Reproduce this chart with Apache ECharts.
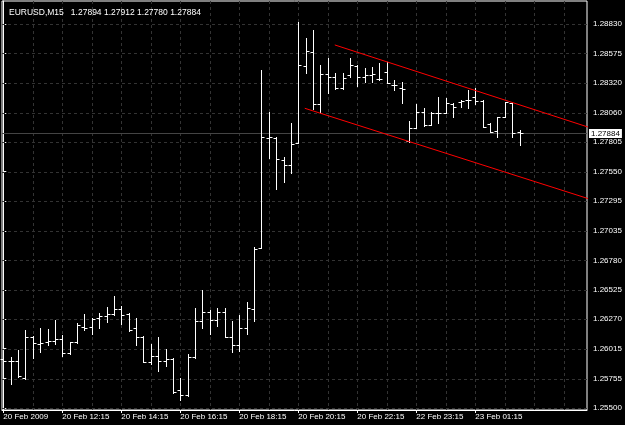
<!DOCTYPE html>
<html><head><meta charset="utf-8">
<script src="https://cdn.jsdelivr.net/npm/echarts@6/dist/echarts.min.js"></script>
<style>html,body{margin:0;padding:0;background:#000}#c{width:625px;height:425px}</style>
</head><body><div id="c"></div>
<script>
const titleText = 'EURUSD,M15   1.27894 1.27912 1.27780 1.27884';
const opens  = [1.25925,1.25908,1.25908,1.25761,1.26116,1.26055,1.26073,1.26081,1.26099,1.25977,
                1.26073,1.26203,1.26203,1.26281,1.26298,1.26315,1.26359,1.26315,1.26194,1.26116,
                1.25899,1.25951,1.25908,1.25925,1.25656,1.25613,1.25943,1.26255,1.26333,1.26263,
                1.26333,1.26116,1.26047,1.26194,1.26359,1.26888,1.27842,1.27842,1.27651,1.27607,
                1.27798,1.28466,1.28587,1.28136,1.28396,1.28370,1.28275,1.28388,1.28466,1.28370,
                1.28388,1.28353,1.28414,1.28301,1.28275,1.27816,1.27928,1.28067,1.27954,1.28058,
                1.28058,1.28136,1.28154,1.28171,1.28197,1.28162,1.27963,1.27902,1.28024,1.28145,
                1.27894];
const highs  = [1.25969,1.25943,1.26003,1.26177,1.26124,1.26194,1.26185,1.26263,1.26133,1.26073,
                1.26237,1.26315,1.26281,1.26324,1.26376,1.26472,1.26385,1.26324,1.26281,1.26124,
                1.26055,1.26116,1.26012,1.25934,1.25761,1.25969,1.26367,1.26524,1.26350,1.26367,
                1.26367,1.26255,1.26307,1.26420,1.26896,1.28431,1.28067,1.27850,1.27677,1.27972,
                1.28847,1.28709,1.28778,1.28474,1.28535,1.28405,1.28405,1.28535,1.28474,1.28448,
                1.28457,1.28492,1.28501,1.28344,1.28327,1.27989,1.28136,1.28102,1.28067,1.28197,
                1.28188,1.28145,1.28171,1.28258,1.28275,1.28171,1.27972,1.28024,1.28154,1.28145,
                1.27912];
const lows   = [1.25821,1.25708,1.25769,1.25752,1.25934,1.25986,1.26047,1.26055,1.25951,1.25969,
                1.26064,1.26177,1.26142,1.26194,1.26246,1.26307,1.26229,1.26168,1.26047,1.25899,
                1.25882,1.25821,1.25865,1.25630,1.25570,1.25604,1.25934,1.26194,1.26142,1.26211,
                1.26116,1.25986,1.25995,1.26142,1.26255,1.26888,1.27668,1.27399,1.27460,1.27538,
                1.27798,1.28405,1.28093,1.28067,1.28232,1.28266,1.28266,1.28370,1.28292,1.28327,
                1.28327,1.28344,1.28318,1.28258,1.28145,1.27807,1.27928,1.27946,1.27954,1.27972,
                1.28058,1.28024,1.28110,1.28102,1.28136,1.27937,1.27894,1.27850,1.28024,1.27850,
                1.27780];
const closes = [1.25908,1.25912,1.25778,1.26116,1.26064,1.26064,1.26081,1.26099,1.25977,1.26073,
                1.26220,1.26194,1.26272,1.26298,1.26315,1.26359,1.26307,1.26177,1.26116,1.25899,
                1.25951,1.25908,1.25925,1.25639,1.25613,1.25943,1.26255,1.26333,1.26263,1.26333,
                1.26116,1.26047,1.26194,1.26367,1.26879,1.27850,1.27850,1.27659,1.27607,1.27790,
                1.28474,1.28596,1.28136,1.28396,1.28370,1.28275,1.28362,1.28474,1.28370,1.28388,
                1.28396,1.28353,1.28318,1.28301,1.28266,1.27928,1.28067,1.27954,1.28058,1.28058,
                1.28145,1.28110,1.28162,1.28171,1.28162,1.27937,1.27894,1.28024,1.28154,1.27884,
                1.27884];
const xTickIdx = [0, 8, 16, 24, 32, 40, 48, 56, 64];
const xTickLabels = ['20 Feb 2009','20 Feb 12:15','20 Feb 14:15','20 Feb 16:15','20 Feb 18:15',
                     '20 Feb 20:15','20 Feb 22:15','22 Feb 23:15','23 Feb 01:15'];
const yTickValues = [1.25500,1.25755,1.26015,1.26270,1.26525,1.26780,1.27035,1.27295,1.27550,
                     1.27805,1.28060,1.28320,1.28575,1.28830];
const yTickLabels = ['1.25500','1.25755','1.26015','1.26270','1.26525','1.26780','1.27035','1.27295',
                     '1.27550','1.27805','1.28060','1.28320','1.28575','1.28830'];
const vGridIdx = [4,8,12,16,20,24,28,32,36,40,44,48,52,56,60,64,68,72,76];
const bidPrice = 1.27884;
const bidLabel = '1.27884';
const upperChannel = [[44.95, 1.28648], [79.3, 1.27936]];
const lowerChannel = [[40.88, 1.28099], [79.3, 1.27316]];

const X_MIN = -0.176, X_MAX = 79.15, Y_MIN = 1.25483, Y_MAX = 1.29029;
const ohlc = opens.map((o, i) => [i, o, highs[i], lows[i], closes[i]]);
const font = 'Liberation Sans, Arial, sans-serif';
const gridColor = '#333';
const px = v => Math.round(v) + 0.5;

const chart = echarts.init(document.getElementById('c'), null, {renderer: 'canvas'});
chart.setOption({
  animation: false,
  backgroundColor: '#000',
  title: {
    text: titleText, left: 4, top: 3,
    textStyle: {color: '#fff', fontSize: 8.5, fontWeight: 'normal', fontFamily: font, lineHeight: 10}
  },
  grid: {left: 2, right: 38, top: 1, bottom: 15, show: true, borderColor: '#fff', borderWidth: 1, backgroundColor: '#000'},
  xAxis: {
    type: 'value', min: X_MIN, max: X_MAX,
    axisLine: {show: true, lineStyle: {color: '#fff', width: 1}},
    axisTick: {show: true, customValues: xTickIdx, length: 3, lineStyle: {color: '#fff'}},
    axisLabel: {
      show: true, customValues: xTickIdx, color: '#fff', fontSize: 8, fontFamily: font,
      align: 'left', margin: 3,
      formatter: v => { const k = xTickIdx.indexOf(Math.round(v)); return k >= 0 ? xTickLabels[k] : ''; }
    },
    splitLine: {show: false}
  },
  yAxis: {
    type: 'value', position: 'right', min: Y_MIN, max: Y_MAX, scale: true,
    axisLine: {show: true, lineStyle: {color: '#fff', width: 1}},
    axisTick: {show: true, customValues: yTickValues, length: 3, lineStyle: {color: '#fff'}},
    axisLabel: {
      show: true, customValues: yTickValues, color: '#fff', fontSize: 8, fontFamily: font, margin: 6,
      formatter: v => {
        let best = 0; for (let k = 1; k < yTickValues.length; k++) if (Math.abs(yTickValues[k]-v) < Math.abs(yTickValues[best]-v)) best = k;
        return yTickLabels[best];
      }
    },
    splitLine: {show: false}
  },
  series: [
    { // horizontal dashed grid lines at the price ticks
      type: 'custom', z: 1, silent: true, data: yTickValues.map(v => [0, v]),
      encode: {x: 0, y: 1},
      renderItem: (params, api) => {
        const cs = params.coordSys; const p = api.coord([0, api.value(1)]);
        const y = px(p[1]);
        return {type: 'line', shape: {x1: cs.x, y1: y, x2: cs.x + cs.width, y2: y},
                style: {stroke: gridColor, lineWidth: 1, lineDash: [3, 3]}};
      }
    },
    { // vertical dashed grid lines
      type: 'custom', z: 1, silent: true, data: vGridIdx.map(v => [v, Y_MIN]),
      encode: {x: 0, y: 1},
      renderItem: (params, api) => {
        const cs = params.coordSys; const p = api.coord([api.value(0), Y_MIN]);
        const x = px(p[0]);
        return {type: 'line', shape: {x1: x, y1: cs.y, x2: x, y2: cs.y + cs.height},
                style: {stroke: gridColor, lineWidth: 1, lineDash: [3, 3]}};
      }
    },
    { // bid price line with label box
      type: 'custom', z: 2, silent: true, data: [[0, bidPrice]],
      encode: {x: 0, y: 1},
      renderItem: (params, api) => {
        const cs = params.coordSys; const p = api.coord([0, api.value(1)]);
        const y = px(p[1]);
        return {type: 'group', children: [
          {type: 'line', shape: {x1: cs.x, y1: y, x2: cs.x + cs.width, y2: y},
           style: {stroke: '#444', lineWidth: 1}},
          {type: 'text', x: cs.x + cs.width + 2, y: y,
           style: {text: bidLabel, fill: '#000', backgroundColor: '#fff', padding: [1, 2, 0, 2],
                   font: '8px ' + font, verticalAlign: 'middle', align: 'left'}}
        ]};
      }
    },
    { // OHLC bars
      type: 'custom', z: 3, silent: true, data: ohlc,
      encode: {x: 0, y: [1, 2, 3, 4]},
      renderItem: (params, api) => {
        const idx = api.value(0);
        const o = api.coord([idx, api.value(1)]);
        const h = api.coord([idx, api.value(2)]);
        const l = api.coord([idx, api.value(3)]);
        const c = api.coord([idx, api.value(4)]);
        const x = px(o[0]);
        const st = {stroke: '#fff', lineWidth: 1};
        return {type: 'group', children: [
          {type: 'line', shape: {x1: x, y1: Math.round(h[1]), x2: x, y2: Math.round(l[1]) + 1}, style: st},
          {type: 'line', shape: {x1: x - 3, y1: px(o[1]), x2: x, y2: px(o[1])}, style: st},
          {type: 'line', shape: {x1: x, y1: px(c[1]), x2: x + 3, y2: px(c[1])}, style: st}
        ]};
      }
    },
    {type: 'line', data: upperChannel, z: 4, symbol: 'none', silent: true, clip: true,
     lineStyle: {color: '#ff0000', width: 1}},
    {type: 'line', data: lowerChannel, z: 4, symbol: 'none', silent: true, clip: true,
     lineStyle: {color: '#ff0000', width: 1}}
  ]
});
</script></body></html>
